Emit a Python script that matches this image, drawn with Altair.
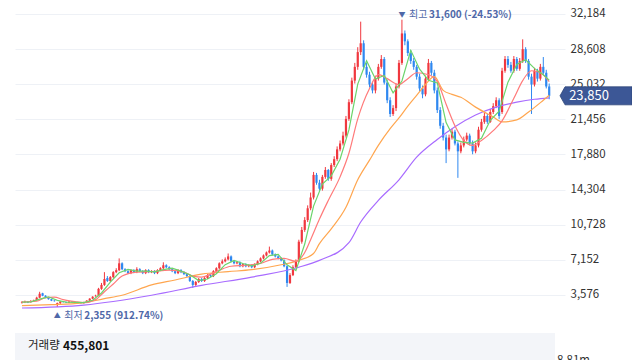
import altair as alt
import pandas as pd

# ---------------- data ----------------
opens = [
    2800, 2850, 2900, 2850, 2950, 3050, 3300, 3750, 3500, 3300,
    3150, 3000, 2550, 2750, 2900, 2850, 2800, 2900, 2850, 2750,
    2800, 2750, 2850, 3000, 3200, 3450, 3500, 4200, 4600, 5300,
    5000, 5400, 5900, 6100, 6800, 6200, 6000, 5800, 6100, 5900,
    6200, 6000, 5800, 6100, 5900, 6000, 5800, 6100, 6300, 6600,
    6400, 6200, 6000, 5800, 6100, 5900, 5700, 5500, 5000, 4600,
    4900, 5200, 5000, 5300, 5600, 5500, 6000, 6300, 6800, 7000,
    7200, 7500, 7000, 6800, 6900, 6500, 6700, 6500, 6600, 6400,
    6700, 7000, 7300, 7600, 7900, 8100, 7700, 7500, 7300, 7100,
    6500, 4800, 5600, 6400, 7000, 9000, 10200, 11200, 12400, 13500,
    15800, 15000, 14400, 15600, 16300, 15400, 16800, 17400, 18400, 19000,
    19800, 21500, 23200, 25400, 26800, 28300, 29200, 26800, 26000, 25000,
    24400, 25600, 26800, 27600, 25200, 23400, 22000, 22600, 24800, 27200,
    30200, 29400, 28200, 27400, 26800, 25800, 24600, 24000, 25600, 27200,
    26200, 24400, 22400, 20800, 19600, 18400, 19600, 20200, 19000, 18200,
    18800, 19400, 19800, 19000, 18200, 18800, 20400, 21200, 21800, 21200,
    22200, 22800, 23400, 22200, 26400, 27600, 27000, 26400, 27600, 26600,
    27400, 28600, 27400, 25800, 25000, 26400, 25600, 26800, 26200, 24800,
]
highs = [
    2950, 3000, 2950, 3050, 3100, 3400, 3900, 3800, 3550, 3350,
    3200, 3050, 2800, 2950, 2950, 2900, 2950, 2950, 2900, 2850,
    2850, 2900, 3050, 3250, 3450, 3600, 4300, 4800, 5900, 5500,
    5500, 6000, 6300, 7300, 6900, 6300, 6100, 6200, 6200, 6400,
    6300, 6100, 6200, 6200, 6100, 6100, 6200, 6400, 6900, 6700,
    6500, 6300, 6100, 6200, 6200, 6000, 5800, 5600, 5100, 5000,
    5300, 5300, 5400, 5700, 5700, 6100, 6400, 6900, 7200, 7400,
    7800, 7600, 7100, 7000, 7000, 6800, 6800, 6700, 6700, 6800,
    7100, 7400, 7700, 8000, 8500, 8200, 7800, 7600, 7400, 7200,
    6600, 5800, 6600, 7200, 9200, 10500, 11500, 12700, 14000, 16100,
    16000, 15300, 15800, 16600, 16400, 17000, 17700, 18700, 19300, 20200,
    21800, 23500, 25700, 27200, 28800, 31400, 29500, 27200, 26300, 25300,
    25900, 27100, 28000, 27800, 25500, 23700, 22900, 25100, 27500, 31600,
    30500, 29600, 28500, 27700, 27000, 26100, 24900, 25900, 27600, 27400,
    26500, 24700, 22700, 21100, 19900, 19900, 20500, 20400, 19200, 19100,
    19700, 20100, 20000, 19300, 19100, 20700, 21500, 22100, 22000, 22500,
    23100, 23700, 23600, 26700, 27900, 27900, 27300, 27900, 27800, 27700,
    29600, 28800, 27600, 26100, 26700, 26600, 27100, 27800, 26500, 25100,
]
lows = [
    2700, 2750, 2750, 2800, 2900, 3000, 3250, 3450, 3250, 3100,
    2950, 2900, 2355, 2650, 2800, 2750, 2750, 2800, 2700, 2700,
    2700, 2700, 2800, 2950, 3150, 3400, 3450, 4100, 4500, 4900,
    4900, 5300, 5800, 6000, 6100, 5900, 5700, 5700, 5800, 5800,
    5900, 5700, 5700, 5800, 5800, 5700, 5700, 6000, 6200, 6300,
    6100, 5900, 5700, 5700, 5800, 5600, 5400, 4900, 4300, 4500,
    4800, 4900, 4900, 5200, 5400, 5400, 5900, 6200, 6700, 6900,
    7100, 6900, 6700, 6700, 6400, 6400, 6400, 6400, 6300, 6300,
    6600, 6900, 7200, 7500, 7800, 7600, 7400, 7200, 7000, 6400,
    4400, 4700, 5500, 6300, 6900, 8800, 10000, 11000, 12200, 13300,
    14800, 14200, 14200, 15400, 15200, 15200, 16600, 17200, 18200, 18800,
    19600, 21300, 23000, 25100, 26500, 28000, 26500, 25700, 24700, 24100,
    24100, 25400, 26600, 25000, 23100, 21700, 21800, 22300, 24600, 27000,
    29000, 27900, 27100, 26500, 25500, 24300, 23600, 23800, 25400, 25900,
    24100, 22100, 20500, 19300, 17000, 18200, 19400, 18800, 15500, 18000,
    18600, 19200, 18800, 17900, 18000, 18600, 20200, 21000, 21000, 21100,
    22000, 22600, 21500, 22000, 26200, 26700, 26200, 26200, 26400, 26400,
    27200, 27200, 25500, 22000, 24800, 25300, 25400, 26000, 24600, 23500,
]
closes = [
    2850, 2900, 2800, 2950, 3000, 3300, 3700, 3500, 3300, 3150,
    3000, 2950, 2750, 2900, 2850, 2800, 2900, 2850, 2750, 2800,
    2750, 2850, 3000, 3200, 3400, 3500, 4200, 4600, 5200, 5000,
    5400, 5900, 6100, 6800, 6200, 6000, 5800, 6100, 5900, 6200,
    6000, 5800, 6100, 5900, 6000, 5800, 6100, 6300, 6600, 6400,
    6200, 6000, 5800, 6100, 5900, 5700, 5500, 5000, 4600, 4900,
    5200, 5000, 5300, 5600, 5500, 6000, 6300, 6800, 7000, 7200,
    7500, 7000, 6800, 6900, 6500, 6700, 6500, 6600, 6400, 6700,
    7000, 7300, 7600, 7900, 8100, 7700, 7500, 7300, 7100, 6500,
    4800, 5600, 6400, 7000, 9000, 10200, 11200, 12400, 13500, 15800,
    15000, 14400, 15600, 16300, 15400, 16800, 17400, 18400, 19000, 19800,
    21500, 23200, 25400, 26800, 28300, 29200, 26800, 26000, 25000, 24400,
    25600, 26800, 27600, 25200, 23400, 22000, 22600, 24800, 27200, 30200,
    29400, 28200, 27400, 26800, 25800, 24600, 24000, 25600, 27200, 26200,
    24400, 22400, 20800, 19600, 18400, 19600, 20200, 19000, 18200, 18800,
    19400, 19800, 19000, 18200, 18800, 20400, 21200, 21800, 21200, 22200,
    22800, 23400, 21800, 26400, 27600, 27000, 26400, 27600, 26600, 27400,
    28600, 27400, 25800, 25000, 26400, 25600, 26800, 26200, 24800, 23850,
]

ma5_idx = [0, 3, 6, 9, 12, 15, 18, 21, 24, 27,
           30, 33, 36, 39, 42, 45, 48, 51, 54, 57,
           60, 63, 66, 69, 72, 75, 78, 81, 84, 87,
           90, 93, 96, 99, 102, 105, 108, 111, 114, 117,
           120, 123, 126, 129, 132, 135, 138, 141, 144, 147,
           150, 153, 156, 159, 162, 165, 168, 171, 174, 177, 179]
ma5_val = [2850, 2875, 3150, 3390, 3030, 2850, 2830, 2800, 3040, 3780,
           4880, 5840, 6180, 6000, 6000, 5920, 6160, 6300, 6000, 5640,
           5040, 5200, 5740, 6660, 7100, 6780, 6540, 6800, 7580, 7700,
           6640, 6060, 8760, 12620, 14860, 15700, 17400, 20380, 25040, 27420,
           25560, 25920, 24160, 25360, 28480, 26560, 25440, 25160, 21120, 19360,
           19120, 19040, 19520, 21360, 22280, 25240, 27040, 27520, 26640, 26000, 25450]

ma20_idx = [0, 5, 8, 11, 14, 18, 21, 25, 28, 31, 34, 39, 44, 50, 55, 58, 61, 64, 67,
            71, 76, 81, 85, 89, 93, 96, 98, 101, 104, 108, 111, 114, 118, 121, 124,
            128, 131, 134, 138, 141, 144, 147, 150, 153, 156, 160, 163, 167, 170,
            173, 176, 179]
ma20_val = [2850, 2950, 3300, 3350, 3100, 2900, 2800, 3100, 3900, 4700, 5500, 5900, 5950,
            6100, 5900, 5500, 5400, 5700, 6100, 6500, 6600, 6800, 7200, 7300, 7000, 7900,
            9200, 11300, 13200, 15600, 18000, 21500, 24600, 26000, 25600, 25000, 25600,
            26200, 26000, 25300, 23000, 20800, 19300, 18800, 19300, 20300, 21300, 23600,
            25400, 26400, 26200, 25300]

ma60_idx = [0, 10, 20, 28, 34, 44, 52, 61, 70, 78, 88, 94, 99, 101, 105, 110, 114, 118,
            121, 125, 128, 131, 134, 137, 140, 143, 146, 149, 154, 160, 163, 168, 172,
            177, 179]
ma60_val = [2500, 2600, 2750, 3200, 3550, 4600, 5100, 5700, 5950, 6150, 6650, 7100, 7800,
            8800, 10300, 12500, 15300, 17300, 18800, 20500, 21600, 22800, 23900, 25000,
            25800, 24400, 24000, 23700, 22700, 21700, 21200, 21400, 22200, 23400, 23900]

ma120_idx = [0, 21, 44, 61, 78, 94, 101, 111, 115, 121, 128, 134, 141, 147, 154, 161,
             168, 174, 179]
ma120_val = [2250, 2550, 3550, 4550, 5400, 6400, 7100, 8900, 11000, 13200, 15300, 17600,
             19400, 20700, 21900, 22700, 23200, 23500, 23650]

ytick_values = [3576, 7152, 10728, 14304, 17880, 21456, 25032, 28608, 32184]
volume_last = 455801
volume_scale_label = "8.81m"

# ---------------- styling ----------------
FONT = "Noto Sans CJK KR"
UP = "#f0383f"
DOWN = "#2f88f0"
ANNO = "#4f68a8"

candles = pd.DataFrame({"i": list(range(len(closes))), "open": opens, "high": highs,
                        "low": lows, "close": closes})
candles["dir"] = ["up" if c >= o else "down" for o, c in zip(opens, closes)]

ma_frames = []
for name, ix, vals in [("MA5", ma5_idx, ma5_val), ("MA20", ma20_idx, ma20_val),
                       ("MA60", ma60_idx, ma60_val), ("MA120", ma120_idx, ma120_val)]:
    ma_frames.append(pd.DataFrame({"i": ix, "v": vals, "ma": name}))
ma = pd.concat(ma_frames, ignore_index=True)

xscale = alt.Scale(domain=[-0.667, 182.667], nice=False, zero=False)
yscale = alt.Scale(domain=[-3247, 32790], nice=False, zero=False)
yaxis = alt.Axis(orient="right", values=ytick_values, format=",d", grid=True,
                 gridColor="#eef1f6", gridWidth=1, domain=False, ticks=False,
                 labelPadding=5, labelFontSize=11.5, labelColor="#333333",
                 labelFont=FONT, labelOverlap=False, title=None)
xaxis = None
color_scale = alt.Scale(domain=["up", "down"], range=[UP, DOWN])

base = alt.Chart(candles)
wicks = base.mark_rule(strokeWidth=1).encode(
    x=alt.X("i:Q", scale=xscale, axis=xaxis),
    y=alt.Y("low:Q", scale=yscale, axis=yaxis),
    y2="high:Q",
    color=alt.Color("dir:N", scale=color_scale, legend=None),
)
bodies = base.mark_bar(size=2.2).encode(
    x=alt.X("i:Q", scale=xscale, axis=xaxis),
    y=alt.Y("open:Q", scale=yscale, axis=yaxis),
    y2="close:Q",
    color=alt.Color("dir:N", scale=color_scale, legend=None),
)

def ma_line(name, color, interp):
    return alt.Chart(ma[ma["ma"] == name]).mark_line(
        color=color, strokeWidth=1.2, interpolate=interp).encode(
        x=alt.X("i:Q", scale=xscale, axis=xaxis),
        y=alt.Y("v:Q", scale=yscale, axis=yaxis),
        order="i:Q",
    )

lines = [ma_line("MA120", "#a86bff", "monotone"),
         ma_line("MA60", "#ffa64f", "monotone"),
         ma_line("MA20", "#ff7a7a", "monotone"),
         ma_line("MA5", "#6bd46b", "linear")]

# volume band + texts (decorations in pixel space of the plot)
band = alt.Chart(pd.DataFrame({"a": [0]})).mark_rect(color="#f3f5f9").encode(
    x=alt.value(0), x2=alt.value(540), y=alt.value(325), y2=alt.value(360))
vol_label = alt.Chart(pd.DataFrame({"t": ["거래량"]})).mark_text(
    align="left", baseline="middle", font=FONT, fontSize=11.5, color="#222222").encode(
    x=alt.value(13), y=alt.value(338), text="t:N")
vol_value = alt.Chart(pd.DataFrame({"t": [f"{volume_last:,}"]})).mark_text(
    align="left", baseline="middle", font=FONT, fontSize=12, fontWeight="bold",
    color="#111111").encode(x=alt.value(48), y=alt.value(338), text="t:N")
vol_scale = alt.Chart(pd.DataFrame({"t": [volume_scale_label]})).mark_text(
    align="left", baseline="middle", font=FONT, fontSize=11.5, color="#333333").encode(
    x=alt.value(542), y=alt.value(353), text="t:N")

# high / low annotations
hi_i = int(candles["high"].idxmax())
lo_i = int(candles["low"].idxmin())
last_close = closes[-1]
hi_val = highs[hi_i]
lo_val = lows[lo_i]
hi_pct = (last_close / hi_val - 1) * 100
lo_pct = (last_close / lo_val - 1) * 100
anno = pd.DataFrame({
    "i": [hi_i, lo_i],
    "v": [hi_val, lo_val],
    "tri": ["▼", "▲"],
    "lab": ["최고", "최저"],
    "num": [f"{hi_val:,} ({hi_pct:.2f}%)", f"{lo_val:,} ({lo_pct:.2f}%)"],
    "dy": [-5, 9],
})

def anno_layer(row, field, dx, bold, size, align="left"):
    d = anno.iloc[[row]]
    return alt.Chart(d).mark_text(
        align=align, baseline="middle", font=FONT, fontSize=size,
        fontWeight="bold" if bold else "normal", color=ANNO,
        dx=dx, dy=int(d["dy"].iloc[0])).encode(
        x=alt.X("i:Q", scale=xscale, axis=xaxis),
        y=alt.Y("v:Q", scale=yscale, axis=yaxis),
        text=f"{field}:N")

anno_layers = []
for r in (0, 1):
    anno_layers += [anno_layer(r, "tri", 0, False, 7, "center"),
                    anno_layer(r, "lab", 7, False, 10),
                    anno_layer(r, "num", 27, True, 10)]

# current price tag
last_df = pd.DataFrame({"v": [last_close], "t": [f"{last_close:,}"]})
tag_path = "M-1,0 L-0.86,-0.25 L1,-0.25 L1,0.25 L-0.86,0.25 Z"
tag = alt.Chart(last_df).mark_point(
    shape=tag_path, size=72 * 72, filled=True, fill="#3c5796", opacity=1,
    stroke="#2f4679", strokeWidth=0.8).encode(
    x=alt.value(581), y=alt.Y("v:Q", scale=yscale, axis=yaxis))
tag_text = alt.Chart(last_df).mark_text(
    align="center", baseline="middle", font=FONT, fontSize=13, color="white").encode(
    x=alt.value(574), y=alt.Y("v:Q", scale=yscale, axis=yaxis), text="t:N")

chart = alt.layer(
    band, wicks, bodies, *lines, vol_label, vol_value, vol_scale,
    *anno_layers, tag, tag_text
).properties(
    width=550, height=354,
    padding={"left": 7, "top": 0, "right": 67, "bottom": 0},
    autosize=alt.AutoSizeParams(type="none"),
    background="white",
).configure_view(stroke=None)

chart.save("out.html", embed_options={"renderer": "svg", "actions": False})
